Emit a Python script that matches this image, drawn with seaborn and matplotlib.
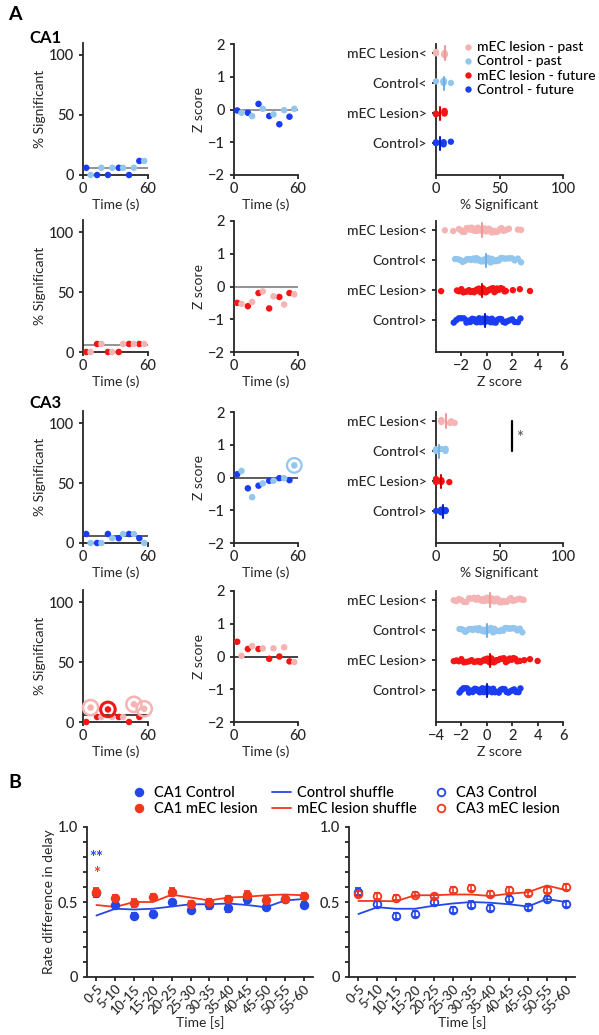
import numpy as np
import pandas as pd
import matplotlib
matplotlib.use('Agg')
import matplotlib.pyplot as plt
import seaborn as sns

# ---- data ----
t_fut = [3, 13, 23, 33, 42.5, 52]
t_past = [7, 17, 27, 37, 47, 56.5]

ca1_ctrl_fut_sig = [6, 0, 0, 6, 0, 11.7]
ca1_ctrl_past_sig = [0, 6, 6, 6, 6, 11.7]
ca1_ctrl_fut_z = [-0.03, -0.1, 0.17, -0.2, -0.45, -0.22]
ca1_ctrl_past_z = [-0.1, -0.2, 0.02, -0.15, -0.02, 0.02]

ca1_les_fut_sig = [0, 6.7, 0, 0, 6.7, 6.7]
ca1_les_past_sig = [0, 6.7, 0, 6.7, 6.7, 6.7]
ca1_les_fut_z = [-0.5, -0.6, -0.2, -0.67, -0.32, -0.2]
ca1_les_past_z = [-0.53, -0.47, -0.15, -0.3, -0.55, -0.24]

ca3_ctrl_fut_sig = [7.5, 0, 7.5, 4, 7.5, 4]
ca3_ctrl_past_sig = [0, 0, 4, 7.5, 7.5, 0]
ca3_ctrl_fut_z = [0.1, -0.33, -0.25, -0.1, -0.02, -0.08]
ca3_ctrl_past_z = [0.2, -0.6, -0.18, -0.1, -0.02, 0.37]

ca3_les_fut_sig = [0, 4.2, 10.5, 4.2, 0, 4.2]
ca3_les_past_sig = [12, 4.2, 4.2, 4.2, 14.7, 11]
ca3_les_fut_z = [0.45, 0.23, 0.23, -0.07, 0.0, -0.15]
ca3_les_past_z = [0.02, 0.32, 0.25, 0.25, 0.28, -0.17]

# chance level lines (% significant) and z reference
sig_ref = [5.5, 5.5, 5.5, 5.5]
z_ref = [-0.02, 0, 0, 0]

# z-score distributions (per cell)
z1_les_past = [-3.3, -2.65, -2.2, -2.05, -1.9, -1.75, -1.6, -1.5, -1.4, -1.3, -1.2, -1.1, -1.0, -0.95,
               -0.85, -0.75, -0.7, -0.6, -0.55, -0.45, -0.4, -0.35, -0.3, -0.2, -0.15, -0.05, 0.05, 0.15,
               0.25, 0.35, 0.45, 0.55, 0.7, 0.85, 1.0, 1.15, 1.3, 1.45, 1.6, 1.75, 2.45, 2.7]
z1_ctrl_past = [-2.5, -2.3, -2.1, -1.9, -1.7, -1.55, -1.4, -1.25, -1.1, -1.0, -0.9, -0.8, -0.7, -0.6,
                -0.5, -0.4, -0.3, -0.25, -0.2, -0.15, -0.1, -0.05, 0.0, 0.05, 0.1, 0.2, 0.3, 0.4, 0.5,
                0.6, 0.7, 0.8, 0.95, 1.1, 1.25, 1.4, 1.6, 1.8, 2.0, 2.2, 2.45, 2.7]
z1_les_fut = [-3.6, -2.35, -2.2, -2.0, -1.85, -1.7, -1.55, -1.4, -1.3, -1.2, -1.1, -1.0, -0.9, -0.8,
              -0.7, -0.65, -0.6, -0.55, -0.5, -0.45, -0.4, -0.35, -0.3, -0.2, -0.1, 0.0, 0.1, 0.2, 0.3,
              0.4, 0.5, 0.6, 0.7, 0.8, 0.95, 1.1, 1.25, 1.4, 1.5, 2.05, 2.6, 3.4]
z1_ctrl_fut = [-2.6, -2.4, -2.2, -2.0, -1.8, -1.6, -1.45, -1.3, -1.15, -1.0, -0.9, -0.8, -0.7, -0.6,
               -0.5, -0.4, -0.35, -0.3, -0.25, -0.2, -0.15, -0.1, -0.05, 0.0, 0.1, 0.2, 0.3, 0.4, 0.5,
               0.6, 0.7, 0.85, 1.0, 1.15, 1.3, 1.45, 1.6, 1.8, 2.0, 2.2, 2.45, 2.65]

z3_les_past = [-2.6, -2.4, -2.2, -2.0, -1.8, -1.6, -1.4, -1.2, -1.0, -0.85, -0.7, -0.55, -0.4, -0.3,
               -0.2, -0.1, 0.0, 0.1, 0.15, 0.2, 0.25, 0.3, 0.35, 0.4, 0.5, 0.6, 0.7, 0.8, 0.9, 1.0,
               1.15, 1.3, 1.45, 1.6, 1.75, 1.9, 2.05, 2.2, 2.4, 2.6, 2.75, 2.9]
z3_ctrl_past = [-2.15, -2.0, -1.85, -1.7, -1.55, -1.4, -1.25, -1.1, -0.95, -0.8, -0.7, -0.6, -0.5,
                -0.4, -0.3, -0.2, -0.15, -0.1, -0.05, 0.0, 0.03, 0.07, 0.1, 0.2, 0.3, 0.4, 0.5, 0.6,
                0.7, 0.85, 1.0, 1.15, 1.3, 1.45, 1.6, 1.75, 1.9, 2.05, 2.2, 2.4, 2.6, 2.8]
z3_les_fut = [-2.6, -2.4, -2.2, -2.0, -1.8, -1.6, -1.4, -1.2, -1.0, -0.8, -0.65, -0.5, -0.35, -0.2,
              -0.1, 0.0, 0.1, 0.15, 0.2, 0.25, 0.27, 0.3, 0.35, 0.45, 0.55, 0.65, 0.75, 0.9, 1.05,
              1.2, 1.35, 1.5, 1.65, 1.8, 1.95, 2.1, 2.25, 2.4, 2.6, 2.95, 3.4, 4.0]
z3_ctrl_fut = [-2.15, -2.0, -1.85, -1.7, -1.55, -1.4, -1.25, -1.1, -0.95, -0.8, -0.65, -0.55, -0.45,
               -0.35, -0.25, -0.2, -0.15, -0.1, -0.05, -0.02, 0.0, 0.02, 0.05, 0.1, 0.2, 0.3, 0.4,
               0.5, 0.65, 0.8, 0.95, 1.1, 1.25, 1.4, 1.55, 1.7, 1.85, 2.0, 2.15, 2.3, 2.5, 2.65]

grp_names = ['mEC Lesion<', 'Control<', 'mEC Lesion>', 'Control>']
leg_names = ['mEC lesion - past', 'Control - past', 'mEC lesion - future', 'Control - future']

# panel B
bins = ['0-5', '5-10', '10-15', '15-20', '20-25', '25-30', '30-35', '35-40', '40-45', '45-50', '50-55', '55-60']
ca1_ctrl = [0.56, 0.482, 0.41, 0.418, 0.50, 0.45, 0.478, 0.46, 0.52, 0.467, 0.518, 0.482]
ca1_ctrl_sem = [0.025, 0.02, 0.02, 0.02, 0.015, 0.02, 0.025, 0.025, 0.025, 0.02, 0.02, 0.02]
ca1_les = [0.567, 0.53, 0.493, 0.533, 0.567, 0.49, 0.50, 0.518, 0.55, 0.516, 0.518, 0.538]
ca1_les_sem = [0.025, 0.02, 0.025, 0.02, 0.025, 0.02, 0.02, 0.02, 0.025, 0.015, 0.02, 0.02]
ca1_ctrl_shuf = [0.41, 0.455, 0.45, 0.455, 0.47, 0.485, 0.485, 0.49, 0.48, 0.465, 0.51, 0.52]
ca1_les_shuf = [0.48, 0.467, 0.50, 0.50, 0.549, 0.53, 0.51, 0.53, 0.535, 0.545, 0.55, 0.545]

ca3_ctrl = [0.57, 0.49, 0.41, 0.418, 0.50, 0.45, 0.482, 0.462, 0.518, 0.47, 0.518, 0.49]
ca3_ctrl_sem = [0.025, 0.02, 0.02, 0.02, 0.02, 0.02, 0.025, 0.02, 0.02, 0.02, 0.02, 0.02]
ca3_les = [0.555, 0.54, 0.53, 0.55, 0.54, 0.58, 0.595, 0.555, 0.578, 0.562, 0.58, 0.60]
ca3_les_sem = [0.02, 0.02, 0.015, 0.015, 0.015, 0.02, 0.02, 0.02, 0.02, 0.02, 0.02, 0.02]
ca3_ctrl_shuf = [0.42, 0.465, 0.455, 0.455, 0.475, 0.49, 0.50, 0.495, 0.485, 0.47, 0.52, 0.50]
ca3_les_shuf = [0.507, 0.507, 0.505, 0.545, 0.545, 0.55, 0.55, 0.54, 0.555, 0.565, 0.61, 0.58]

# ---- style ----
C_FUT, C_PAST = '#1a3cf5', '#92c6ee'
L_FUT, L_PAST = '#f51515', '#f5b3b3'
grp_cols = [L_PAST, C_PAST, L_FUT, C_FUT]
med_cols = ['#ef9a9a', '#6fb0e6', '#d00000', '#0020c0']
B_BLUE, B_RED = '#2447e8', '#f2381c'

sns.set_style('ticks')
plt.rcParams['font.family'] = ['Lato', 'DejaVu Sans']
plt.rcParams['font.weight'] = 500
plt.rcParams['text.color'] = 'black'
plt.rcParams['font.size'] = 10
plt.rcParams['axes.linewidth'] = 1.3
plt.rcParams['xtick.major.width'] = 1.3
plt.rcParams['ytick.major.width'] = 1.3
plt.rcParams['xtick.major.size'] = 3
plt.rcParams['ytick.major.size'] = 3
plt.rcParams['axes.labelsize'] = 10
plt.rcParams['xtick.labelsize'] = 10.5
plt.rcParams['ytick.labelsize'] = 10.5
plt.rcParams['axes.labelpad'] = 2
plt.rcParams['xtick.major.pad'] = 2

W, H = 599, 1035
fig = plt.figure(figsize=(W / 100, H / 100), dpi=100)


def add_ax(l, t, r, b):
    return fig.add_axes([l / W, 1 - b / H, (r - l) / W, (b - t) / H])


def time_panel(ax, fut, past, cf, cp, kind, ref, refc):
    df = pd.DataFrame({'t': t_fut + t_past, 'v': fut + past, 'g': ['fut'] * 6 + ['past'] * 6})
    ax.axhline(ref, color=refc, lw=1.2, zorder=1)
    sns.scatterplot(data=df, x='t', y='v', hue='g', palette={'fut': cf, 'past': cp}, s=22,
                    linewidth=0, legend=False, ax=ax, clip_on=False, zorder=3)
    ax.set_xlim(0, 60)
    ax.set_xticks([0, 60])
    if kind == 'sig':
        ax.set_ylim(0, 110)
        ax.set_yticks([0, 50, 100])
        ax.set_ylabel('% Significant')
    else:
        ax.set_ylim(-2, 2)
        ax.set_yticks([-2, -1, 0, 1, 2])
        ax.set_ylabel('Z score')
    ax.set_xlabel('Time (s)')
    sns.despine(ax=ax)


def dist_panel(ax, vals_list, xlim, xticks, xlabel, legend=False):
    rows = []
    for name, leg, vals in zip(grp_names, leg_names, vals_list):
        for v in vals:
            rows.append((name, leg, v))
    df = pd.DataFrame(rows, columns=['grp', 'leg', 'v'])
    np.random.seed(3)
    sns.stripplot(data=df, x='v', y='grp', order=grp_names, hue='leg', hue_order=leg_names,
                  palette=dict(zip(leg_names, grp_cols)), jitter=0.08, size=4.6, linewidth=0,
                  legend=legend, ax=ax, clip_on=False, orient='h')
    for i, vals in enumerate(vals_list):
        m = np.median(vals)
        ax.plot([m, m], [i - 0.22, i + 0.22], color=med_cols[i], lw=1.5, zorder=5)
    ax.set_ylim(4.05, -0.3)
    ax.set_xlim(*xlim)
    ax.set_xticks(xticks)
    ax.set_xlabel(xlabel)
    ax.set_ylabel('')
    ax.tick_params(axis='y', labelsize=10)
    sns.despine(ax=ax)


rows_px = [175, 352, 543, 722]
L_X, M_X, R_X = (83, 148), (234, 298), (436, 563)

sets = [
    (ca1_ctrl_fut_sig, ca1_ctrl_past_sig, ca1_ctrl_fut_z, ca1_ctrl_past_z, C_FUT, C_PAST, '#808080'),
    (ca1_les_fut_sig, ca1_les_past_sig, ca1_les_fut_z, ca1_les_past_z, L_FUT, L_PAST, '#808080'),
    (ca3_ctrl_fut_sig, ca3_ctrl_past_sig, ca3_ctrl_fut_z, ca3_ctrl_past_z, C_FUT, C_PAST, '#404040'),
    (ca3_les_fut_sig, ca3_les_past_sig, ca3_les_fut_z, ca3_les_past_z, L_FUT, L_PAST, '#202020'),
]

left_axes, mid_axes = [], []
for k, (b, (fs, ps, fz, pz, cf, cp, refc)) in enumerate(zip(rows_px, sets)):
    axl = add_ax(L_X[0], b - 132, L_X[1], b)
    time_panel(axl, fs, ps, cf, cp, 'sig', sig_ref[k], refc)
    axm = add_ax(M_X[0], b - 131, M_X[1], b)
    time_panel(axm, fz, pz, cf, cp, 'z', z_ref[k], refc)
    left_axes.append(axl)
    mid_axes.append(axm)

# rings around significant bins
axm = mid_axes[2]
axm.scatter([t_past[5]], [ca3_ctrl_past_z[5]], s=110, facecolor='none', edgecolor=C_PAST, lw=1.6,
            clip_on=False, zorder=4)
axl = left_axes[3]
ring_idx = [0, 4, 5]
axl.scatter([t_past[i] for i in ring_idx], [ca3_les_past_sig[i] for i in ring_idx], s=120,
            facecolor='none', edgecolor=L_PAST, lw=1.8, clip_on=False, zorder=4)
axl.scatter([t_fut[2]], [ca3_les_fut_sig[2]], s=110, facecolor='none', edgecolor=L_FUT, lw=2.2,
            clip_on=False, zorder=4)

# right column distributions
ax1 = add_ax(R_X[0], rows_px[0] - 131, R_X[1], rows_px[0])
dist_panel(ax1, [ca1_les_past_sig, ca1_ctrl_past_sig, ca1_les_fut_sig, ca1_ctrl_fut_sig],
           (0, 100), [0, 50, 100], '% Significant', legend=True)
sns.move_legend(ax1, 'upper left', bbox_to_anchor=(0.21, 1.02), frameon=False, title=None,
                handletextpad=0.2, labelspacing=0.15, handlelength=0.8, borderaxespad=0,
                borderpad=0, fontsize=10)

ax2 = add_ax(R_X[0], rows_px[1] - 131, R_X[1], rows_px[1])
dist_panel(ax2, [z1_les_past, z1_ctrl_past, z1_les_fut, z1_ctrl_fut], (-4, 6), [-2, 0, 2, 4, 6], 'Z score')

ax3 = add_ax(R_X[0], rows_px[2] - 131, R_X[1], rows_px[2])
dist_panel(ax3, [ca3_les_past_sig, ca3_ctrl_past_sig, ca3_les_fut_sig, ca3_ctrl_fut_sig],
           (0, 100), [0, 50, 100], '% Significant')
ax3.plot([60, 60], [0, 1], color='black', lw=1.6, clip_on=False)
ax3.text(63, 0.55, '*', color='#555555', fontsize=12, va='center', ha='left')

ax4 = add_ax(R_X[0], rows_px[3] - 131, R_X[1], rows_px[3])
dist_panel(ax4, [z3_les_past, z3_ctrl_past, z3_les_fut, z3_ctrl_fut], (-4, 6), [-4, -2, 0, 2, 4, 6], 'Z score')

# panel labels
fig.text(8 / W, 1 - 15 / H, 'A', fontsize=14, fontweight='bold', va='center')
fig.text(29 / W, 1 - 38 / H, 'CA1', fontsize=12, fontweight='bold', va='center')
fig.text(29 / W, 1 - 403 / H, 'CA3', fontsize=12, fontweight='bold', va='center')
fig.text(8 / W, 1 - 783 / H, 'B', fontsize=14, fontweight='bold', va='center')

# ---- panel B ----
xpos = list(range(len(bins)))
axb1 = add_ax(87, 827, 313, 977)
axb2 = add_ax(349, 827, 575, 977)
handles = []
for ax, ctrl, ctrl_sem, les, les_sem, cshuf, lshuf, face in [
        (axb1, ca1_ctrl, ca1_ctrl_sem, ca1_les, ca1_les_sem, ca1_ctrl_shuf, ca1_les_shuf, True),
        (axb2, ca3_ctrl, ca3_ctrl_sem, ca3_les, ca3_les_sem, ca3_ctrl_shuf, ca3_les_shuf, False)]:
    sns.lineplot(x=xpos, y=cshuf, color=B_BLUE, lw=1.3, ax=ax)
    hl1 = ax.lines[-1]
    sns.lineplot(x=xpos, y=lshuf, color=B_RED, lw=1.3, ax=ax)
    hl2 = ax.lines[-1]
    e1 = ax.errorbar(xpos, ctrl, yerr=ctrl_sem, fmt='o', color=B_BLUE, ms=5.5, capsize=2.5, lw=1.2,
                     mfc=B_BLUE if face else 'none', mew=1.3, zorder=4)
    e2 = ax.errorbar(xpos, les, yerr=les_sem, fmt='o', color=B_RED, ms=5.5, capsize=2.5, lw=1.2,
                     mfc=B_RED if face else 'none', mew=1.3, zorder=5)
    if face:
        handles += [e1[0], e2[0], hl1, hl2]
    else:
        handles += [e1[0], e2[0]]
    ax.set_xlim(-0.5, 11.5)
    ax.set_ylim(0, 1.0)
    ax.set_yticks([0, 0.5, 1.0])
    ax.set_yticklabels(['0', '0.5', '1.0'])
    ax.set_yticks(np.arange(0, 1.01, 0.1), minor=True)
    ax.tick_params(axis='y', which='minor', length=3, width=1.3)
    ax.set_xticks(xpos)
    ax.set_xticklabels(bins, rotation=45, ha='right', rotation_mode='anchor', fontsize=9.5)
    ax.tick_params(axis='x', pad=1)
    ax.set_xlabel('Time [s]', labelpad=0)
    sns.despine(ax=ax)

axb1.set_ylabel('Rate difference in delay')
axb1.text(0, 0.79, '**', color=B_BLUE, fontsize=12, fontweight='bold', ha='center', va='center')
axb1.text(0, 0.685, '*', color=B_RED, fontsize=12, fontweight='bold', ha='center', va='center')

labels = ['CA1 Control', 'CA1 mEC lesion', 'Control shuffle', 'mEC lesion shuffle', 'CA3 Control', 'CA3 mEC lesion']
fig.legend(handles, labels, ncol=3, loc='upper left', bbox_to_anchor=(122 / W, 1 - 779 / H),
           frameon=False, handlelength=1.3, handletextpad=0.4, columnspacing=1.0,
           labelspacing=0.15, borderpad=0, fontsize=10.5)

fig.savefig('out.png', dpi=100)
